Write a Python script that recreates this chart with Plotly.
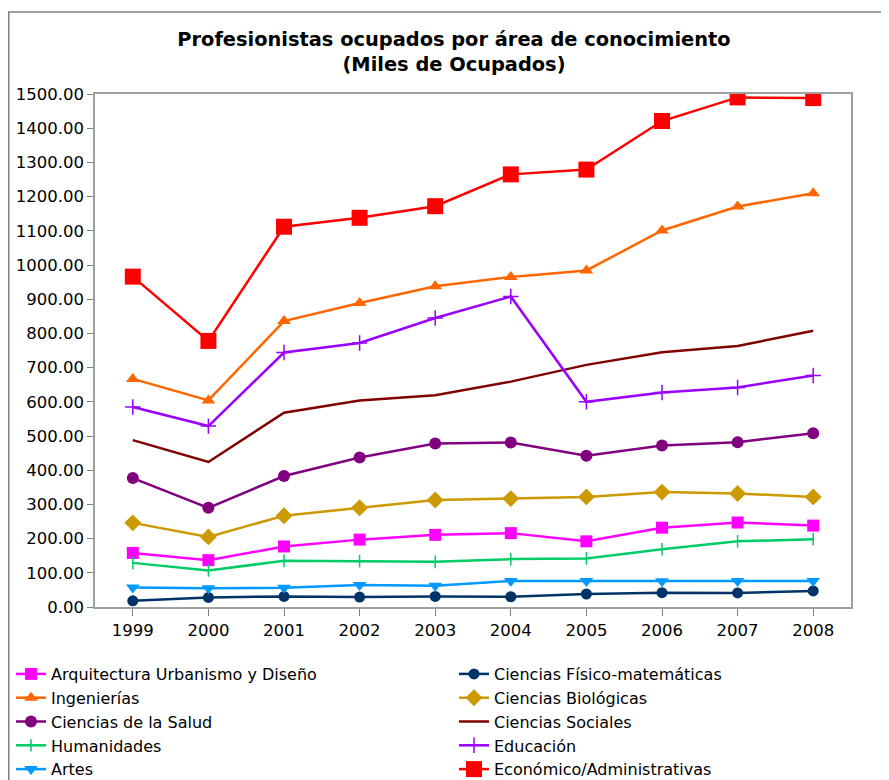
import plotly.graph_objects as go

years = ["1999", "2000", "2001", "2002", "2003", "2004", "2005", "2006", "2007", "2008"]

arquitectura = [158, 137, 177, 197, 211, 216, 192, 232, 247, 238]
fisico_mat = [18, 28, 31, 29, 31, 30, 38, 42, 41, 47]
ingenierias = [667, 604, 836, 889, 938, 965, 984, 1101, 1171, 1210]
biologicas = [246, 205, 267, 290, 313, 317, 322, 336, 332, 322]
salud = [377, 290, 383, 437, 478, 481, 442, 472, 482, 508]
sociales = [488, 424, 568, 604, 619, 659, 708, 745, 763, 808]
humanidades = [129, 107, 135, 134, 132, 140, 142, 169, 192, 198]
educacion = [585, 529, 744, 772, 845, 908, 600, 627, 642, 677]
artes = [57, 55, 56, 64, 62, 76, 76, 75, 76, 76]
economico = [966, 778, 1112, 1138, 1172, 1265, 1279, 1421, 1490, 1488]

# (name, values, color, symbol, size, legend column)
series = [
    ("Arquitectura Urbanismo y Diseño", arquitectura, "#FF00FF", "square", 12, "legend"),
    ("Ciencias Físico-matemáticas", fisico_mat, "#003366", "circle", 11, "legend2"),
    ("Ingenierías", ingenierias, "#FF6600", "triangle-up", 12, "legend"),
    ("Ciencias Biológicas", biologicas, "#CC9900", "diamond", 13, "legend2"),
    ("Ciencias de la Salud", salud, "#800080", "circle", 12, "legend"),
    ("Ciencias Sociales", sociales, "#800000", None, 0, "legend2"),
    ("Humanidades", humanidades, "#00CC66", "line-ns-open", 9, "legend"),
    ("Educación", educacion, "#9900FF", "cross-thin-open", 11, "legend2"),
    ("Artes", artes, "#0099FF", "triangle-down", 12, "legend"),
    ("Económico/Administrativas", economico, "#FF0000", "square", 16, "legend2"),
]

fig = go.Figure()
for name, vals, color, sym, size, leg in series:
    if sym is None:
        fig.add_trace(go.Scatter(x=years, y=vals, name=name, mode="lines", legend=leg,
                                 line=dict(color=color, width=2.5)))
    else:
        mk = dict(symbol=sym, size=size, color=color)
        if "open" in sym:
            mk["line"] = dict(color=color, width=1.5)
        fig.add_trace(go.Scatter(x=years, y=vals, name=name, mode="lines+markers", legend=leg,
                                 line=dict(color=color, width=2.5), marker=mk))

W, H = 889, 780
OFF = 8  # page body margin offset
# plot area in figure coordinates
PL, PR, PT, PB = 95 - OFF, 851 - OFF, 94 - OFF, 607 - OFF
L, R, T, B = PL, W - PR, PT, H - PB
pw = PR - PL
ph = PB - PT

def px_x(x):
    return (x - PL) / pw

def px_y(y):
    return (PB - y) / ph

FONT = "DejaVu Sans, Liberation Sans, Arial, sans-serif"
leg_font = dict(family=FONT, size=16, color="black")
leg_top = 1 - 649 / H

fig.update_layout(
    width=W, height=H,
    margin=dict(l=L, r=R, t=T, b=B, autoexpand=False),
    paper_bgcolor="white", plot_bgcolor="white",
    font=dict(family=FONT, size=16, color="black"),
    title=dict(
        text="Profesionistas ocupados por área de conocimiento<br>(Miles de Ocupados)",
        x=446 / W, xref="container", xanchor="center",
        y=1 - 38 / H, yref="container", yanchor="middle",
        font=dict(family="DejaVu Sans, sans-serif", size=19.4, color="black", weight="bold"),
    ),
    showlegend=True,
    legend=dict(
        orientation="v", xref="container", yref="container",
        x=3 / W, y=leg_top, xanchor="left", yanchor="top",
        font=leg_font, itemwidth=30, bgcolor="rgba(0,0,0,0)",
    ),
    legend2=dict(
        orientation="v", xref="container", yref="container",
        x=446 / W, y=leg_top, xanchor="left", yanchor="top",
        font=leg_font, itemwidth=30, bgcolor="rgba(0,0,0,0)",
    ),
    xaxis=dict(
        type="category", range=[-0.5, 9.5], showgrid=False, zeroline=False,
        showline=True, linecolor="#A0A0A0", linewidth=1.5, mirror=True,
        ticks="outside", ticklen=7, tickcolor="#808080", tickwidth=1,
        tickfont=dict(family=FONT, size=16.5),
    ),
    yaxis=dict(
        range=[0, 1500], dtick=100, tickformat=".2f", showgrid=False, zeroline=False,
        showline=True, linecolor="#A0A0A0", linewidth=1.5, mirror=True,
        ticks="outside", ticklen=6, tickcolor="#808080", tickwidth=1,
        tickfont=dict(family=FONT, size=16.5),
    ),
    shapes=[dict(
        type="rect", xref="paper", yref="paper",
        x0=px_x(0.75), x1=px_x(885 - OFF), y0=px_y(800), y1=px_y(12 - OFF),
        line=dict(color="#808080", width=1.5), fillcolor="rgba(0,0,0,0)", layer="below",
    )],
)

fig.write_html("out.html")
